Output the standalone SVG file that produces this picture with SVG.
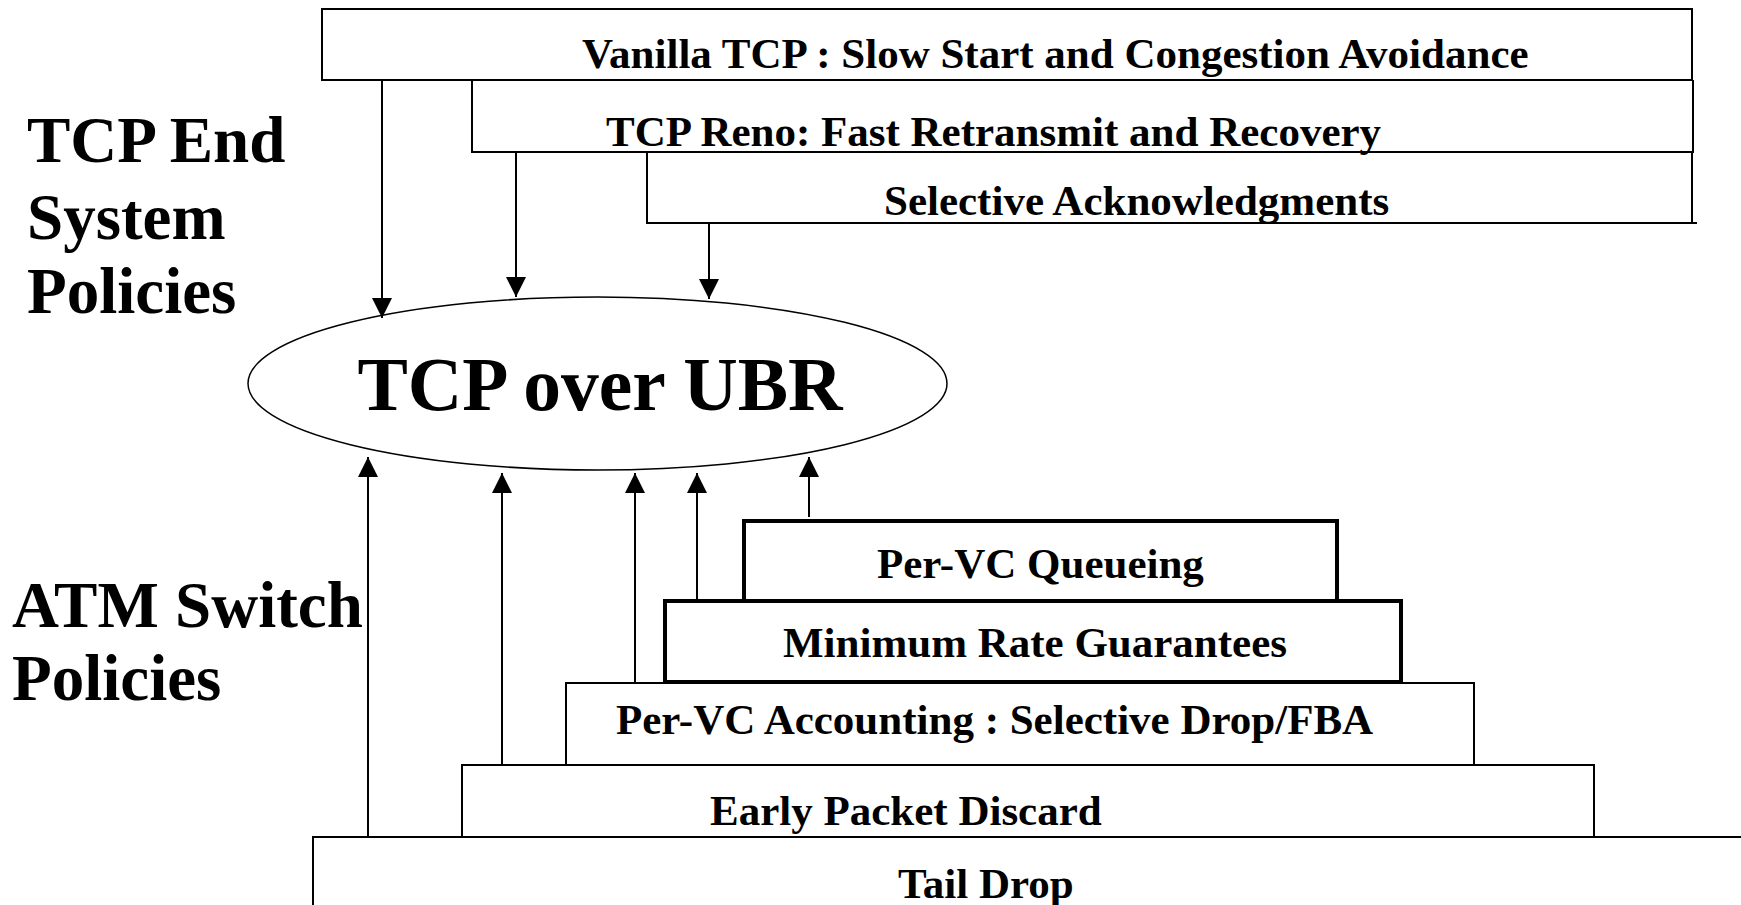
<svg xmlns="http://www.w3.org/2000/svg" width="1741" height="905" viewBox="0 0 1741 905">
<style>
  text { font-family: "Liberation Serif", "Times New Roman", serif; font-weight: bold; fill: #000; }
  .lbl { font-size: 43px; }
  .side { font-size: 65px; }
  .box { fill: #fff; stroke: #000; stroke-width: 2; }
  .thick { fill: #fff; stroke: #000; stroke-width: 4; }
  .conn line { stroke: #000; stroke-width: 2; }
</style>
<defs>
  <marker id="arr" markerWidth="20" markerHeight="20" refX="20" refY="10" orient="auto" markerUnits="userSpaceOnUse">
    <path d="M0,0 L20,10 L0,20 Z" fill="#000"/>
  </marker>
</defs>
<rect width="1741" height="905" fill="#fff"/>

<g id="side-labels">
  <text class="side" x="27" y="162">TCP End</text>
  <text class="side" x="27" y="239">System</text>
  <text class="side" x="27" y="313">Policies</text>
  <text class="side" x="12" y="627">ATM Switch</text>
  <text class="side" x="12" y="700">Policies</text>
</g>

<g id="n-sack">
  <path class="box" d="M647,152 V223 H1697 M1692,223 V152"/>
  <text class="lbl" x="884" y="215">Selective Acknowledgments</text>
</g>
<g id="n-reno">
  <path class="box" d="M472,80 V152 H1693 V80"/>
  <text class="lbl" x="606" y="146">TCP Reno: Fast Retransmit and Recovery</text>
</g>
<g id="n-vanilla">
  <rect class="box" x="322" y="9" width="1370" height="71"/>
  <text class="lbl" x="582" y="68">Vanilla TCP : Slow Start and Congestion Avoidance</text>
</g>

<g id="n-ubr">
  <ellipse cx="597.5" cy="383.5" rx="349.5" ry="86.5" fill="#fff" stroke="#000" stroke-width="1.5"/>
  <text x="600" y="410" font-size="75.5" text-anchor="middle">TCP over UBR</text>
</g>

<g id="n-tail">
  <path class="box" d="M313,905 V837 H1741"/>
  <text class="lbl" x="898" y="898">Tail Drop</text>
</g>
<g id="n-epd">
  <rect class="box" x="462" y="765" width="1132" height="72"/>
  <text class="lbl" x="710" y="825">Early Packet Discard</text>
</g>
<g id="n-acct">
  <rect class="box" x="566" y="683" width="908" height="82"/>
  <text class="lbl" x="616" y="734">Per-VC Accounting : Selective Drop/FBA</text>
</g>
<g id="n-mrg">
  <rect class="thick" x="665" y="601" width="736" height="81"/>
  <text class="lbl" x="783" y="657">Minimum Rate Guarantees</text>
</g>
<g id="n-pvq">
  <rect class="thick" x="744" y="521" width="593" height="80"/>
  <text class="lbl" x="877" y="578">Per-VC Queueing</text>
</g>

<g id="connectors" class="conn">
  <line x1="382" y1="80" x2="382" y2="318" marker-end="url(#arr)"/>
  <line x1="516" y1="152" x2="516" y2="297" marker-end="url(#arr)"/>
  <line x1="709" y1="223" x2="709" y2="299" marker-end="url(#arr)"/>
  <line x1="368" y1="837" x2="368" y2="457" marker-end="url(#arr)"/>
  <line x1="502" y1="765" x2="502" y2="473" marker-end="url(#arr)"/>
  <line x1="635" y1="683" x2="635" y2="473" marker-end="url(#arr)"/>
  <line x1="697" y1="599" x2="697" y2="473" marker-end="url(#arr)"/>
  <line x1="809" y1="517" x2="809" y2="457" marker-end="url(#arr)"/>
</g>
</svg>
